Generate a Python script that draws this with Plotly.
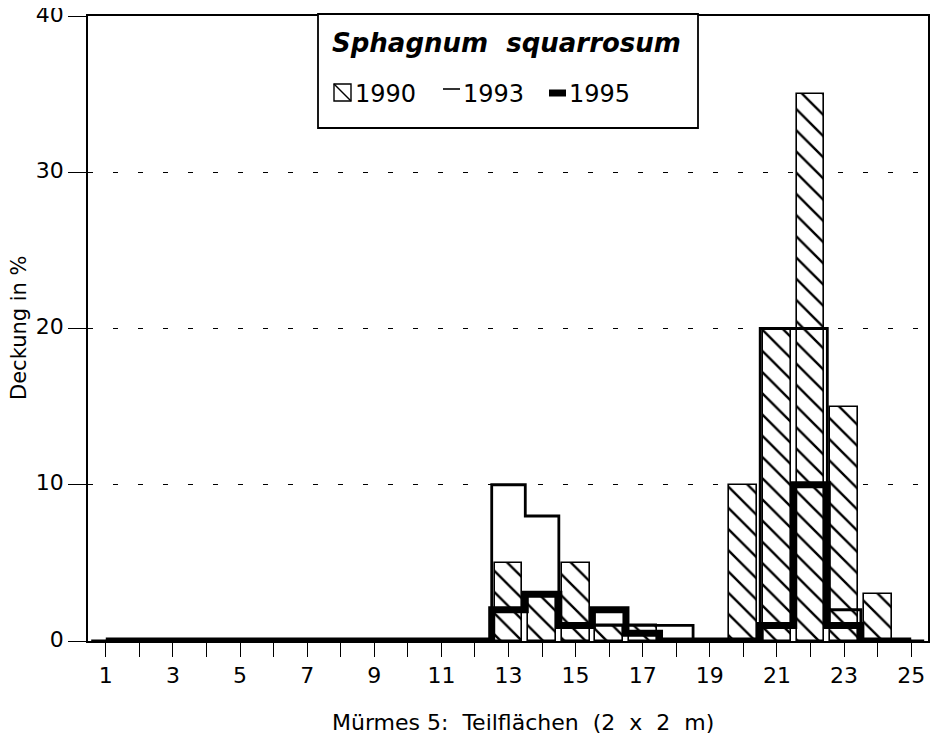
import plotly.graph_objects as go

# Teilflächen 1..25 (Mürmes 5)
plots = list(range(1, 26))
cover_1990 = [0, 0, 0, 0, 0, 0, 0, 0, 0, 0, 0, 0, 5, 3, 5, 1, 1, 0, 0, 10, 20, 35, 15, 3, 0]
cover_1993 = [0, 0, 0, 0, 0, 0, 0, 0, 0, 0, 0, 0, 10, 8, 1, 1, 1, 1, 0, 0, 20, 20, 2, 0, 0]
cover_1995 = [0, 0, 0, 0, 0, 0, 0, 0, 0, 0, 0, 0, 2, 3, 1, 2, 0.5, 0, 0, 0, 1, 10, 1, 0, 0]
tick_text = [str(p) if p % 2 else "" for p in plots]
y_ticks = [0, 10, 20, 30, 40]

FONT = "DejaVu Sans, Arial, sans-serif"

# the page puts the figure 8px in from the top-left corner
OFF = 8
W, H = 938 - OFF, 740 - OFF
# plot area in screen pixels
L, R, T, B = 88, 928, 16, 641


def px_x(px):
    return (px - L) / (R - L)


def px_y(py):
    return (B - py) / (B - T)


fig = go.Figure()

fig.add_trace(go.Bar(
    x=plots, y=cover_1990, name="1990",
    width=0.83, showlegend=False,
    marker=dict(
        color="white",
        line=dict(color="black", width=1.6),
        pattern=dict(shape="\\", fgcolor="black", bgcolor="white", fgopacity=1,
                     size=15, solidity=0.16),
    ),
))

fig.add_trace(go.Scatter(
    x=plots, y=cover_1993, name="1993", showlegend=False,
    mode="lines", line=dict(color="black", width=2.8, shape="hvh"),
))

fig.add_trace(go.Scatter(
    x=plots, y=cover_1995, name="1995", showlegend=False,
    mode="lines", line=dict(color="black", width=7, shape="hvh"),
))

# ── Legend box (drawn by hand to match the original layout) ──────────────
shapes = [
    dict(type="rect", xref="paper", yref="paper",
         x0=px_x(318), x1=px_x(698), y0=px_y(128), y1=px_y(14),
         line=dict(color="black", width=1.8), fillcolor="white", layer="above"),
    # hatched square for 1990
    dict(type="rect", xref="paper", yref="paper",
         x0=px_x(334), x1=px_x(351), y0=px_y(101), y1=px_y(84),
         line=dict(color="black", width=1.4), fillcolor="white", layer="above"),
    dict(type="line", xref="paper", yref="paper",
         x0=px_x(334), x1=px_x(351), y0=px_y(84), y1=px_y(101),
         line=dict(color="black", width=1.4), layer="above"),
    # thin line for 1993
    dict(type="line", xref="paper", yref="paper",
         x0=px_x(443), x1=px_x(460), y0=px_y(89), y1=px_y(89),
         line=dict(color="black", width=1.6), layer="above"),
    # thick line for 1995
    dict(type="line", xref="paper", yref="paper",
         x0=px_x(549), x1=px_x(566), y0=px_y(93), y1=px_y(93),
         line=dict(color="black", width=7), layer="above"),
]

annotations = [
    dict(text="<b><i>Sphagnum\u00a0\u00a0squarrosum</i></b>", xref="paper", yref="paper",
         x=px_x(506), y=px_y(43), xanchor="center", yanchor="middle",
         showarrow=False, font=dict(family=FONT, size=26, color="black")),
    dict(text="1990", xref="paper", yref="paper",
         x=px_x(353), y=px_y(94), xanchor="left", yanchor="middle",
         showarrow=False, font=dict(family=FONT, size=24, color="black")),
    dict(text="1993", xref="paper", yref="paper",
         x=px_x(461), y=px_y(94), xanchor="left", yanchor="middle",
         showarrow=False, font=dict(family=FONT, size=24, color="black")),
    dict(text="1995", xref="paper", yref="paper",
         x=px_x(567), y=px_y(94), xanchor="left", yanchor="middle",
         showarrow=False, font=dict(family=FONT, size=24, color="black")),
    # axis titles
    dict(text="Mürmes\u00a05:\u00a0\u00a0Teilflächen\u00a0\u00a0(2\u00a0\u00a0x\u00a0\u00a02\u00a0\u00a0m)",
         xref="paper", yref="paper",
         x=px_x(523), y=px_y(722), xanchor="center", yanchor="middle",
         showarrow=False, font=dict(family=FONT, size=22, color="black")),
    dict(text="Deckung in %", xref="paper", yref="paper", textangle=-90,
         x=px_x(19), y=px_y(328), xanchor="center", yanchor="middle",
         showarrow=False, font=dict(family=FONT, size=21, color="black")),
]

fig.update_layout(
    width=W, height=H,
    margin=dict(l=L - OFF, r=W - (R - OFF), t=T - OFF, b=H - (B - OFF), pad=0),
    plot_bgcolor="white", paper_bgcolor="white",
    font=dict(family=FONT, size=22, color="black"),
    bargap=0,
    showlegend=False,
    shapes=shapes,
    annotations=annotations,
    xaxis=dict(
        range=[0.47, 25.5],
        tickmode="array", tickvals=plots, ticktext=tick_text,
        ticks="outside", ticklen=14, tickwidth=1.3, tickcolor="black",
        showline=True, linecolor="black", linewidth=1.6, mirror=True,
        showgrid=False, zeroline=False, automargin=False,
    ),
    yaxis=dict(
        range=[0, 40],
        tickvals=y_ticks,
        ticks="outside", ticklen=18, tickwidth=1.3, tickcolor="black",
        ticklabeloverflow="allow", ticklabelshift=-2,
        showline=True, linecolor="black", linewidth=1.6, mirror=True,
        showgrid=True, gridcolor="black", gridwidth=1, griddash="5px,20px",
        zeroline=False, automargin=False,
    ),
)

fig.write_html("out.html")
